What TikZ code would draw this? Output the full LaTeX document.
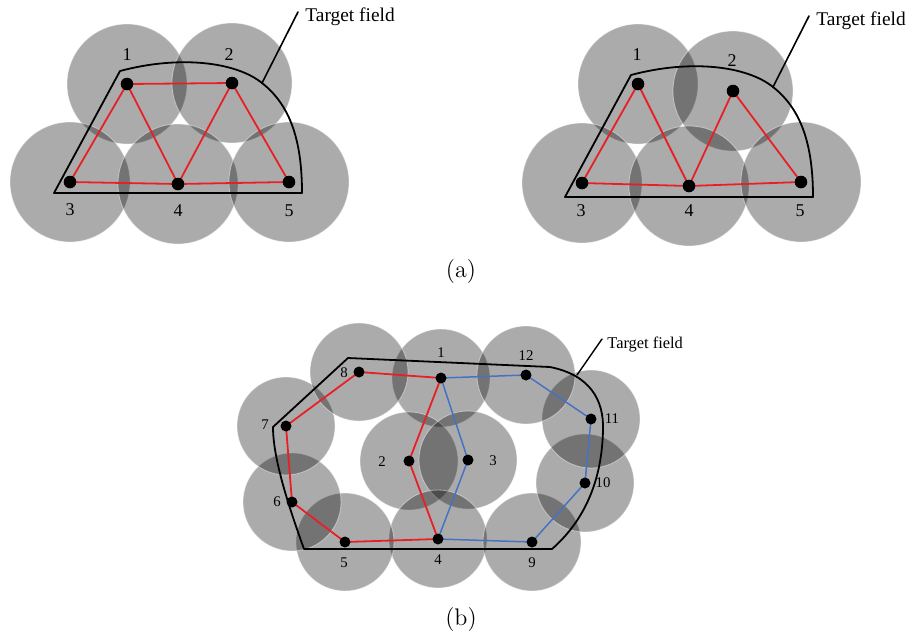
\documentclass[tikz,border=0pt]{standalone}
\usepackage{fontspec}
\newfontfamily\tnr{Liberation Serif}
\usetikzlibrary{calc}

\definecolor{linkred}{RGB}{232,32,38}
\definecolor{linkblue}{RGB}{68,114,196}

\begin{document}
\begin{tikzpicture}[x=0.5pt, y=-0.5pt, line cap=round, line join=round,
    cover/.style={fill=black, fill opacity=0.33, draw=white, draw opacity=0.45, line width=0.4pt},
    field/.style={draw=black, line width=0.9pt},
    redlink/.style={draw=linkred, line width=0.9pt},
    bluelink/.style={draw=linkblue, line width=0.75pt},
    sensor/.style={circle, fill=black, inner sep=0pt, minimum size=6.3pt},
    smallsensor/.style={circle, fill=black, inner sep=0pt, minimum size=5.5pt},
    numtop/.style={font=\tnr\fontsize{9}{10}\selectfont, inner sep=0pt},
    numbot/.style={font=\tnr\fontsize{7.4}{8}\selectfont, inner sep=0pt},
    caption/.style={font=\fontsize{12}{14}\selectfont, inner sep=0pt}]
  \useasboundingbox (0,0) rectangle (912,634);

  % Sensor positions: (a) left, (a) right, (b)
  \foreach \n/\x/\y in {1/127/84, 2/232/83, 3/70/182, 4/178/184, 5/289/182}
    \coordinate (a\n) at (\x,\y);
  \foreach \n/\x/\y in {1/638/84, 2/733/91, 3/582/183, 4/689/186, 5/801/182}
    \coordinate (b\n) at (\x,\y);
  \foreach \n/\x/\y in {1/441/378, 2/409/461, 3/468/460, 4/438/539, 5/345/542, 6/292/502,
      7/286/426, 8/359/372, 9/532/542, 10/585/483, 11/591/419, 12/526/375}
    \coordinate (c\n) at (\x,\y);

  % Coverage discs
  \foreach \n in {1,...,5} {
    \path[cover] (a\n) circle[radius=30pt];
    \path[cover] (b\n) circle[radius=30pt];
  }
  \foreach \n in {1,...,12}
    \path[cover] (c\n) circle[radius=24.5pt];

  % Target fields (a)
  \foreach \dx/\dy in {0/0, 511/4} {
    \begin{scope}[shift={(\dx,\dy)}]
      \draw[field] (54,193) -- (302,193)
        .. controls (302,140) and (290,105) .. (262,83)
        .. controls (236,62) and (180,55) .. (120,71)
        -- cycle;
      \coordinate (tip\dx) at (262,83);
      \coordinate (end\dx) at (298,12);
      \draw[line width=0.8pt] (tip\dx) -- (end\dx);
      \node[font=\tnr\fontsize{9.7}{11}\selectfont, anchor=west, inner sep=0pt] (tf\dx) at (305,17) {Target field};
    \end{scope}
  }

  % Target field (b)
  \draw[field] (348,358) -- (550,367)
    .. controls (590,375) and (604,400) .. (603,430)
    .. controls (602,480) and (585,520) .. (552,549)
    -- (304,549)
    .. controls (290,510) and (273,460) .. (273,427)
    -- cycle;
  \coordinate (tipb) at (577,375);
  \coordinate (endb) at (602,339);
  \draw[line width=0.7pt] (tipb) -- (endb);
  \node[font=\tnr\fontsize{8.2}{9}\selectfont, anchor=west, inner sep=0pt] (tfb) at (607,344) {Target field};

  % Links
  \foreach \u/\v in {1/2, 1/3, 1/4, 2/4, 2/5, 3/4, 4/5}
    \draw[redlink] (a\u) -- (a\v);
  \foreach \u/\v in {1/3, 1/4, 2/4, 2/5, 3/4, 4/5}
    \draw[redlink] (b\u) -- (b\v);
  \draw[redlink] (c1) -- (c2) -- (c4) -- (c5) -- (c6) -- (c7) -- (c8) -- cycle;
  \draw[bluelink] (c1) -- (c12) -- (c11) -- (c10) -- (c9) -- (c4) -- (c3) -- cycle;

  % Sensors
  \foreach \n in {1,...,5} {
    \node[sensor] (sa\n) at (a\n) {};
    \node[sensor] (sb\n) at (b\n) {};
  }
  \foreach \n in {1,...,12}
    \node[smallsensor] (sc\n) at (c\n) {};

  % Labels
  \foreach \n/\x/\y in {1/127/55, 2/229/55, 3/70/210, 4/178/211, 5/289/211}
    \node[numtop] (la\n) at (\x,\y) {\n};
  \foreach \n/\x/\y in {1/637/55, 2/732/61, 3/581/211, 4/689/211, 5/800/211}
    \node[numtop] (lb\n) at (\x,\y) {\n};
  \foreach \n/\x/\y in {1/441/353, 2/382/462, 3/493/461, 4/438/560, 5/344/563, 6/277/502,
      7/265/425, 8/344/373, 9/532/563, 10/603/483, 11/612/419, 12/526/356}
    \node[numbot] (lc\n) at (\x,\y) {\n};

  \node[caption] (capa) at (461,272) {(a)};
  \node[caption] (capb) at (461,620) {(b)};
\end{tikzpicture}
\end{document}
